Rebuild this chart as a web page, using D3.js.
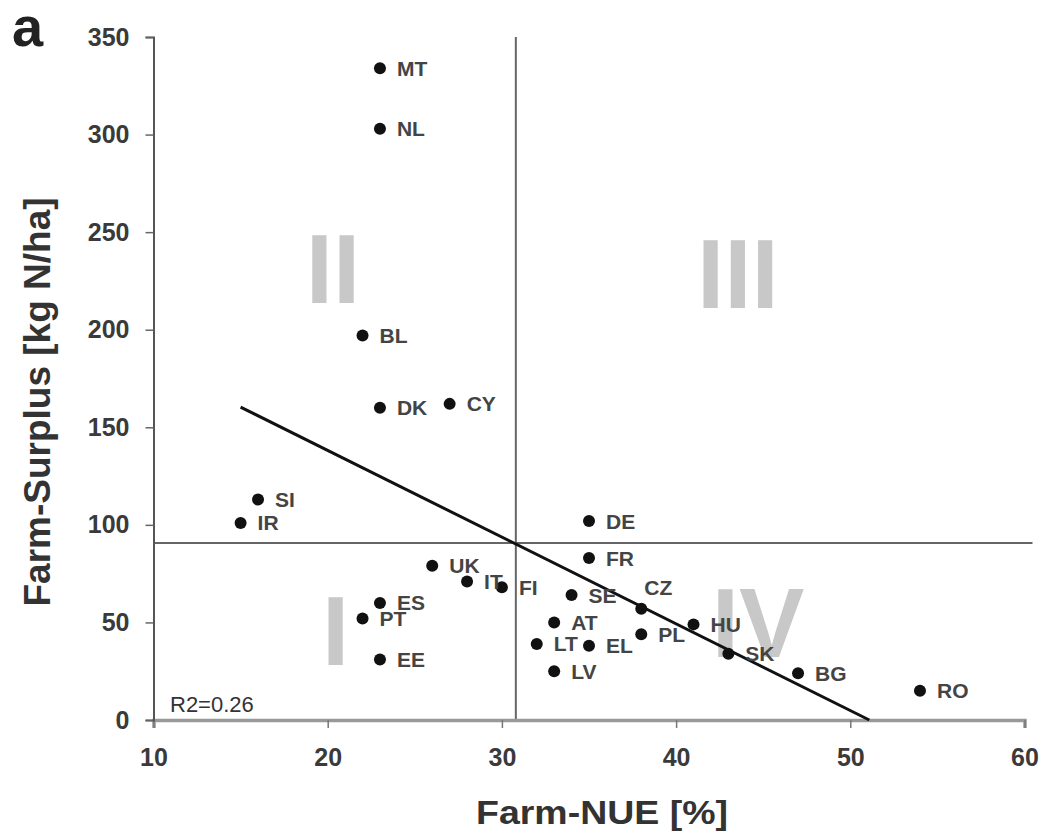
<!DOCTYPE html>
<html>
<head>
<meta charset="utf-8">
<script src="https://cdn.jsdelivr.net/npm/d3@7"></script>
<style>
  html, body { margin: 0; padding: 0; background: #fff; }
  svg { display: block; font-family: "Liberation Sans", Arial, sans-serif; }
</style>
</head>
<body>
<svg id="chart" width="1041" height="835"></svg>
<script>
// ---- data ----
const countries = ["MT","NL","BL","DK","CY","SI","IR","DE","FR","UK","IT","FI","SE","CZ","ES","PT","AT","HU","PL","LT","EL","SK","EE","LV","BG","RO"];
const farmNUE   = [23, 23, 22, 23, 27, 16, 15, 35, 35, 26, 28, 30, 34, 38, 23, 22, 33, 41, 38, 32, 35, 43, 23, 33, 47, 54];
const farmSurplus = [334, 303, 197, 160, 162, 113, 101, 102, 83, 79, 71, 68, 64, 57, 60, 52, 50, 49, 44, 39, 38, 34, 31, 25, 24, 15];
const xTicks = [10, 20, 30, 40, 50, 60];
const yTicks = [0, 50, 100, 150, 200, 250, 300, 350];
const meanNUE = 30.8;
const meanSurplus = 90.7;
const regIntercept = 227.0;
const regSlope = -4.443;
const regStartNUE = 15;
const r2Text = "R2=0.26";
const quadrantNames = ["I", "II", "III", "IV"];
const quadrantNUE = [20.45, 20.3, 43.55, 44.7];
const quadrantSurplus = [28.2, 213.7, 211.1, 32.3];
const labelsAbove = new Set(["CZ"]);

const points = countries.map((c, i) => ({ c, x: farmNUE[i], y: farmSurplus[i] }));

// ---- layout ----
const svg = d3.select("#chart");
const x = d3.scaleLinear().domain([10, 60]).range([153.5, 1024.5]);
const y = d3.scaleLinear().domain([0, 350]).range([720, 37]);

// quadrant numerals (behind everything)
svg.append("g").selectAll("text")
  .data(quadrantNames)
  .join("text")
  .attr("x", (d, i) => x(quadrantNUE[i]))
  .attr("y", (d, i) => y(quadrantSurplus[i]))
  .attr("text-anchor", "middle")
  .attr("font-size", 98)
  .attr("font-weight", "bold")
  .attr("fill", "#c8c8c8")
  .text(d => d);

// mean lines
svg.append("line")
  .attr("x1", x(10)).attr("x2", x(60) + 8)
  .attr("y1", y(meanSurplus)).attr("y2", y(meanSurplus))
  .attr("stroke", "#666").attr("stroke-width", 2);
svg.append("line")
  .attr("x1", x(meanNUE)).attr("x2", x(meanNUE))
  .attr("y1", y(0)).attr("y2", y(350))
  .attr("stroke", "#666").attr("stroke-width", 2);

// axes
const xAxis = d3.axisBottom(x).tickValues(xTicks).tickSize(8).tickPadding(20).tickFormat(d3.format("d"));
const yAxis = d3.axisLeft(y).tickValues(yTicks).tickSize(8).tickPadding(16).tickFormat(d3.format("d"));

const gx = svg.append("g").attr("transform", `translate(0,${y(0)})`).call(xAxis);
gx.select(".domain").attr("stroke", "#999").attr("stroke-width", 3.5);
gx.selectAll(".tick line").attr("stroke", "#777").attr("stroke-width", 1.5);
gx.selectAll(".tick text").attr("font-size", 25).attr("font-weight", "bold").attr("fill", "#3a3a3a")
  .attr("font-family", "Liberation Sans, Arial, sans-serif");

const gy = svg.append("g").attr("transform", `translate(${x(10)},0)`).call(yAxis);
gy.select(".domain").attr("stroke", "#555").attr("stroke-width", 2);
gy.selectAll(".tick line").attr("stroke", "#666").attr("stroke-width", 1.5);
gy.selectAll(".tick text").attr("font-size", 25).attr("font-weight", "bold").attr("fill", "#3a3a3a")
  .attr("font-family", "Liberation Sans, Arial, sans-serif");

// regression line
const regEndNUE = -regIntercept / regSlope;
svg.append("line")
  .attr("x1", x(regStartNUE)).attr("y1", y(regIntercept + regSlope * regStartNUE))
  .attr("x2", x(regEndNUE)).attr("y2", y(regIntercept + regSlope * regEndNUE))
  .attr("stroke", "#111").attr("stroke-width", 3);

// points
svg.append("g").selectAll("circle")
  .data(points)
  .join("circle")
  .attr("cx", d => x(d.x))
  .attr("cy", d => y(d.y))
  .attr("r", 6)
  .attr("fill", "#111");

// point labels
svg.append("g").selectAll("text")
  .data(points)
  .join("text")
  .attr("x", d => x(d.x) + (labelsAbove.has(d.c) ? 3 : 17))
  .attr("y", d => y(d.y) + (labelsAbove.has(d.c) ? -21 : 0))
  .attr("dy", "0.36em")
  .attr("font-size", 21)
  .attr("font-weight", "bold")
  .attr("fill", "#444")
  .text(d => d.c);

// R2
svg.append("text")
  .attr("x", 170).attr("y", 712)
  .attr("font-size", 22)
  .attr("fill", "#333")
  .text(r2Text);

// axis titles
svg.append("text")
  .attr("x", 602).attr("y", 824)
  .attr("text-anchor", "middle")
  .attr("font-size", 33)
  .attr("font-weight", "bold")
  .attr("fill", "#333")
  .attr("textLength", 252)
  .attr("lengthAdjust", "spacingAndGlyphs")
  .text("Farm-NUE [%]");

svg.append("text")
  .attr("transform", `translate(50,402) rotate(-90)`)
  .attr("text-anchor", "middle")
  .attr("font-size", 37)
  .attr("font-weight", "bold")
  .attr("fill", "#333")
  .text("Farm-Surplus [kg N/ha]");

// panel letter
svg.append("text")
  .attr("x", 12).attr("y", 46)
  .attr("font-size", 56)
  .attr("font-weight", "bold")
  .attr("fill", "#222")
  .text("a");
</script>
</body>
</html>
